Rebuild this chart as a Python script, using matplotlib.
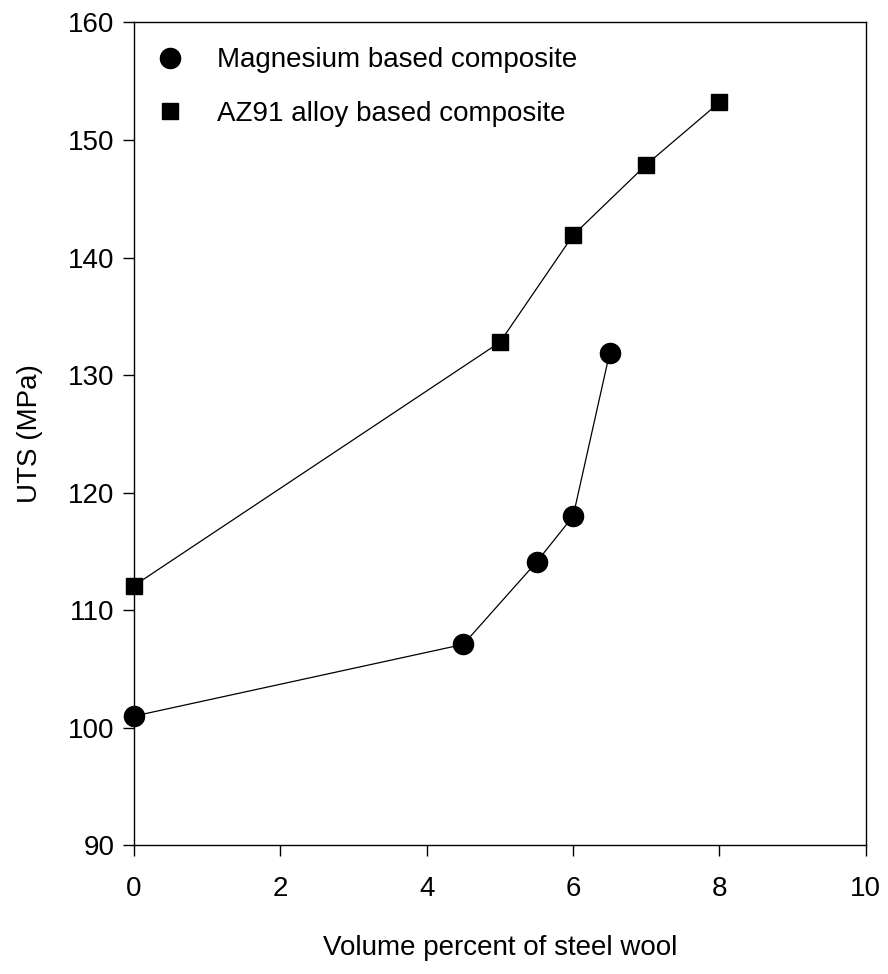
import matplotlib
matplotlib.use("Agg")
import matplotlib.pyplot as plt
from matplotlib import font_manager

mg_x = [0, 4.5, 5.5, 6, 6.5]
mg_y = [101.0, 107.1, 114.1, 118.0, 131.9]
az_x = [0, 5, 6, 7, 8]
az_y = [112.1, 132.8, 141.9, 147.9, 153.2]
xticks = [0, 2, 4, 6, 8, 10]
yticks = [90, 100, 110, 120, 130, 140, 150, 160]

names = {f.name for f in font_manager.fontManager.ttflist}
fam = 'Liberation Sans Narrow' if 'Liberation Sans Narrow' in names else 'Liberation Sans'
plt.rcParams['font.family'] = [fam, 'DejaVu Sans']

fig = plt.figure(figsize=(8.88, 9.74), dpi=100)
ax = fig.add_axes([0.151, 0.132, 0.824, 0.845])

ax.plot(mg_x, mg_y, color='black', lw=0.9, marker='o', markersize=14.5,
        label='Magnesium based composite', clip_on=False, zorder=3)
ax.plot(az_x, az_y, color='black', lw=0.9, marker='s', markersize=12,
        label='AZ91 alloy based composite', clip_on=False, zorder=3)

ax.set_xlim(0, 10)
ax.set_ylim(90, 160)
ax.set_xticks(xticks)
ax.set_yticks(yticks)
ax.tick_params(direction='out', length=8, width=1, labelsize=20, pad=6,
               top=False, right=False)
ax.tick_params(axis='x', pad=14)
for s in ax.spines.values():
    s.set_linewidth(1.0)

ax.set_xlabel('Volume percent of steel wool', fontsize=20, labelpad=24)
ax.set_ylabel('UTS (MPa)', fontsize=20, labelpad=18)

leg = ax.legend(loc='upper left', frameon=False, fontsize=20, handlelength=0.8,
                handletextpad=1.3, labelspacing=1.0, borderaxespad=0.5,
                bbox_to_anchor=(0.0, 1.0))
for h in leg.legend_handles:
    h.set_linestyle('none')

fig.savefig('out.png', dpi=100)
